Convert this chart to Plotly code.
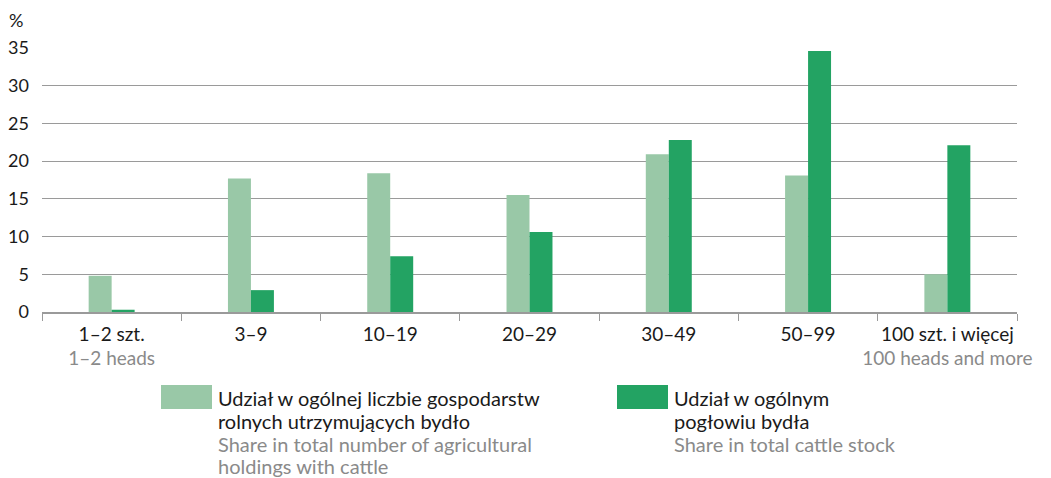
import plotly.graph_objects as go

categories = ["1–2 szt.", "3–9", "10–19", "20–29", "30–49", "50–99", "100 szt. i więcej"]
subtitles = ["1–2 heads", "", "", "", "", "", "100 heads and more"]
holdings_share = [4.8, 17.7, 18.4, 15.5, 20.9, 18.1, 5.0]
cattle_share = [0.3, 2.9, 7.4, 10.6, 22.8, 34.6, 22.1]
y_ticks = [0, 5, 10, 15, 20, 25, 30, 35]

LIGHT = "#99c8a7"
DARK = "#23a363"
TXT = "#1a1a1a"
GREY = "#8a8a8a"
AXIS = "#9a9a9a"
FONT = "Lato, sans-serif"

W, H = 1051, 478
ML, MR, MT, MB = 42, 34, 48, 166
PW, PH = W - ML - MR, H - MT - MB


def px(x):
    return (x - ML) / PW


def py(y):
    return (H - MB - y) / PH


ticktext = [
    f"{c}<br><span style='color:{GREY}'>{s}</span>" if s else c
    for c, s in zip(categories, subtitles)
]

fig = go.Figure()
fig.add_trace(go.Bar(x=categories, y=holdings_share, marker_color=LIGHT,
                     marker_line_width=0, showlegend=False))
fig.add_trace(go.Bar(x=categories, y=cattle_share, marker_color=DARK,
                     marker_line_width=0, showlegend=False))

fig.update_layout(
    width=W, height=H,
    margin=dict(l=ML, r=MR, t=MT, b=MB),
    paper_bgcolor="white", plot_bgcolor="white",
    barmode="group", bargap=0.67, bargroupgap=0,
    font=dict(family=FONT, size=19, color=TXT),
)
fig.update_xaxes(
    tickmode="array", tickvals=categories, ticktext=ticktext, tickangle=0,
    automargin=False, ticklabelstandoff=4,
    tickson="boundaries", ticks="outside", ticklen=7, tickcolor=AXIS,
    showline=True, linecolor=AXIS, linewidth=1.5,
    showgrid=False, tickfont=dict(size=19, color=TXT),
)
fig.update_yaxes(
    range=[0, 35], tickvals=y_ticks, showgrid=True, gridcolor=AXIS,
    gridwidth=1.3, zeroline=False, showline=False, ticks="", automargin=False,
    tickfont=dict(size=18, color=TXT), ticklabelstandoff=12,
)

fig.add_annotation(text="%", xref="paper", yref="paper", x=px(7), y=py(20),
                   xanchor="left", yanchor="middle", showarrow=False,
                   font=dict(size=18, color=TXT))

legend_items = [
    (161, LIGHT, ["Udział w ogólnej liczbie gospodarstw", "rolnych utrzymujących bydło"],
     ["Share in total number of agricultural", "holdings with cattle"]),
    (617, DARK, ["Udział w ogólnym", "pogłowiu bydła"], ["Share in total cattle stock"]),
]
line_y = [398, 421, 444, 466]
for x0, col, pl, en in legend_items:
    fig.add_shape(type="rect", xref="paper", yref="paper",
                  x0=px(x0), x1=px(x0 + 51), y0=py(409), y1=py(385),
                  fillcolor=col, line_width=0)
    lines = [(t, TXT) for t in pl] + [(t, GREY) for t in en]
    for (t, c), yy in zip(lines, line_y):
        fig.add_annotation(
            text=t, xref="paper", yref="paper", x=px(x0 + 55), y=py(yy),
            xanchor="left", yanchor="middle", align="left", showarrow=False,
            font=dict(size=20, color=c),
        )

fig.write_html("out.html", config={"displayModeBar": False},
               post_script="document.body.style.margin='0px';")
